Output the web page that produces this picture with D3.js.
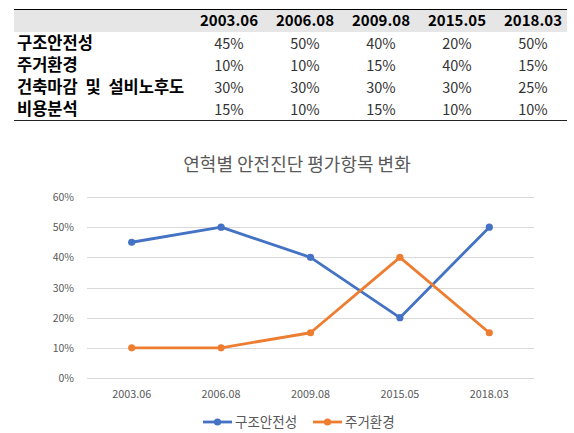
<!DOCTYPE html>
<html>
<head>
<meta charset="utf-8">
<script src="https://cdn.jsdelivr.net/npm/d3@7"></script>
<style>
  body { margin: 0; background: #fff; }
  svg { display: block; }
</style>
</head>
<body>
<svg id="chart"></svg>
<script>
const periods = ["2003.06", "2006.08", "2009.08", "2015.05", "2018.03"];
const rowLabels = ["구조안전성", "주거환경", "건축마감 및 설비노후도", "비용분석"];
const structural = [45, 50, 40, 20, 50];
const living = [10, 10, 15, 40, 15];
const finishing = [30, 30, 30, 30, 25];
const cost = [15, 10, 15, 10, 10];
const yTicks = [0, 10, 20, 30, 40, 50, 60];
const chartTitle = "연혁별 안전진단 평가항목 변화";

const rows = [structural, living, finishing, cost];
const series = [
  { name: rowLabels[0], values: structural, color: "#4472C4" },
  { name: rowLabels[1], values: living, color: "#ED7D31" }
];

const width = 574, height = 433;
const font = "'Noto Sans CJK KR', 'Noto Sans', sans-serif";
const svg = d3.select("#chart").attr("width", width).attr("height", height);

// ---- table ----
const tableLeft = 14, tableRight = 567;
const headerTop = 9, headerBottom = 32, rowH = 22;

svg.append("rect")
  .attr("x", tableLeft).attr("y", headerTop)
  .attr("width", tableRight - tableLeft).attr("height", headerBottom - headerTop)
  .attr("fill", "#E7E6E6");

svg.append("line")
  .attr("x1", tableLeft).attr("x2", tableRight)
  .attr("y1", headerTop + 0.5).attr("y2", headerTop + 0.5)
  .attr("stroke", "#000").attr("stroke-width", 1.2);

const colX = d3.scalePoint().domain(periods).range([229, 533]);
const rowY = d3.scaleBand().domain(rowLabels).range([headerBottom, headerBottom + rowH * rowLabels.length]);

svg.append("line")
  .attr("x1", tableLeft).attr("x2", tableRight)
  .attr("y1", rowY.range()[1] + 0.5).attr("y2", rowY.range()[1] + 0.5)
  .attr("stroke", "#222").attr("stroke-width", 1.2);

svg.selectAll("text.head")
  .data(periods)
  .enter()
  .append("text")
  .attr("class", "head")
  .attr("x", (d) => colX(d))
  .attr("y", (headerTop + headerBottom) / 2 + 5.5)
  .attr("text-anchor", "middle")
  .style("font-family", font)
  .style("font-size", "15px")
  .style("font-weight", "bold")
  .style("fill", "#000")
  .text((d) => d);

svg.selectAll("text.rowlabel")
  .data(rowLabels)
  .enter()
  .append("text")
  .attr("class", "rowlabel")
  .attr("x", tableLeft + 3)
  .attr("y", (d) => rowY(d) + rowY.bandwidth() / 2 + 6)
  .style("font-family", font)
  .style("font-size", "16.5px")
  .style("font-weight", "bold")
  .style("word-spacing", "4px")
  .style("fill", "#000")
  .text((d) => d);

rows.forEach((vals, i) => {
  svg.selectAll("text.val" + i)
    .data(vals)
    .enter()
    .append("text")
    .attr("class", "val" + i)
    .attr("x", (d, j) => colX(periods[j]))
    .attr("y", rowY(rowLabels[i]) + rowY.bandwidth() / 2 + 5.5)
    .attr("text-anchor", "middle")
    .style("font-family", font)
    .style("font-size", "14.5px")
    .style("fill", "#333")
    .text((d) => d + "%");
});

// ---- line chart ----
const plotLeft = 87, plotRight = 534, plotTop = 197, plotBottom = 378;

svg.append("text")
  .attr("x", 297)
  .attr("y", 171)
  .attr("text-anchor", "middle")
  .style("font-family", font)
  .style("font-size", "18px")
  .style("fill", "#595959")
  .text(chartTitle);

const x = d3.scaleBand().domain(periods).range([plotLeft, plotRight]);
const y = d3.scaleLinear().domain([0, 60]).range([plotBottom, plotTop]);
const cx = (p) => x(p) + x.bandwidth() / 2;

const g = svg.append("g");

g.selectAll("line.grid")
  .data(yTicks)
  .enter()
  .append("line")
  .attr("class", "grid")
  .attr("x1", plotLeft).attr("x2", plotRight)
  .attr("y1", (d) => Math.round(y(d)) + 0.5)
  .attr("y2", (d) => Math.round(y(d)) + 0.5)
  .attr("stroke", "#D9D9D9")
  .attr("stroke-width", 1);

g.selectAll("text.ytick")
  .data(yTicks)
  .enter()
  .append("text")
  .attr("class", "ytick")
  .attr("x", 74)
  .attr("y", (d) => y(d) + 4)
  .attr("text-anchor", "end")
  .style("font-family", font)
  .style("font-size", "10.5px")
  .style("fill", "#595959")
  .text((d) => d + "%");

g.selectAll("text.xtick")
  .data(periods)
  .enter()
  .append("text")
  .attr("class", "xtick")
  .attr("x", (d) => cx(d))
  .attr("y", 398)
  .attr("text-anchor", "middle")
  .style("font-family", font)
  .style("font-size", "10.8px")
  .style("fill", "#595959")
  .text((d) => d);

const line = d3.line()
  .x((d, i) => cx(periods[i]))
  .y((d) => y(d));

series.forEach((s) => {
  g.append("path")
    .datum(s.values)
    .attr("d", line)
    .attr("fill", "none")
    .attr("stroke", s.color)
    .attr("stroke-width", 2.8)
    .attr("stroke-linejoin", "round");

  g.selectAll(null)
    .data(s.values)
    .enter()
    .append("circle")
    .attr("cx", (d, i) => cx(periods[i]))
    .attr("cy", (d) => y(d))
    .attr("r", 3.6)
    .attr("fill", s.color);
});

// legend
const legendX = [203, 313];
const legendY = 422;
series.forEach((s, i) => {
  const lg = svg.append("g").attr("transform", `translate(${legendX[i]},${legendY})`);
  lg.append("line")
    .attr("x1", 0).attr("x2", 29)
    .attr("y1", 0).attr("y2", 0)
    .attr("stroke", s.color)
    .attr("stroke-width", 2.8);
  lg.append("circle")
    .attr("cx", 14.5).attr("cy", 0).attr("r", 3.6)
    .attr("fill", s.color);
  lg.append("text")
    .attr("x", 32)
    .attr("y", 5)
    .style("font-family", font)
    .style("font-size", "13.5px")
    .style("fill", "#595959")
    .text(s.name);
});
</script>
</body>
</html>
